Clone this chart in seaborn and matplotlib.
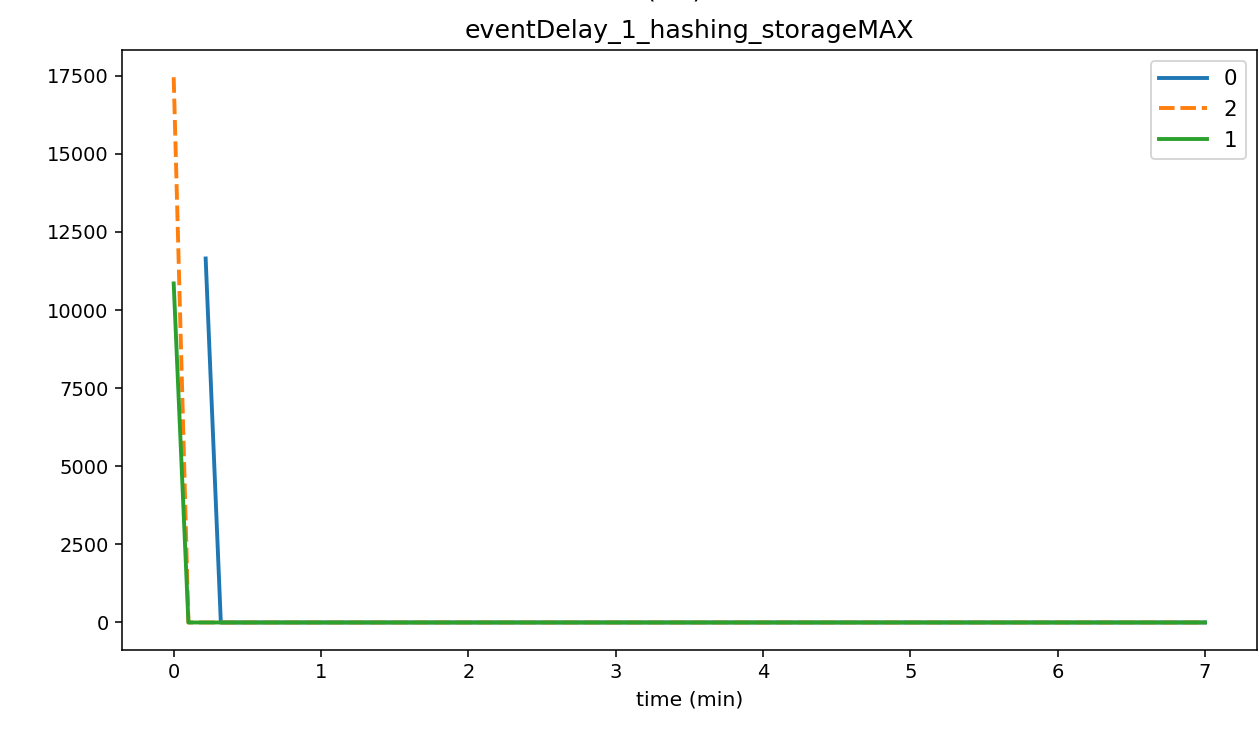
import numpy as np
import pandas as pd
import matplotlib
matplotlib.use('Agg')
import matplotlib.pyplot as plt
import seaborn as sns

# data (time in minutes, delay value)
time_0 = [0.217, 0.32, 7.0]
vals_0 = [11650, 0, 0]
time_2 = [0.0, 0.1, 7.0]
vals_2 = [17450, 0, 0]
time_1 = [0.0, 0.1, 7.0]
vals_1 = [10850, 0, 0]
series_order = ['0', '2', '1']

df = pd.concat([
    pd.DataFrame({'time': time_0, 'value': vals_0, 'node': '0'}),
    pd.DataFrame({'time': time_2, 'value': vals_2, 'node': '2'}),
    pd.DataFrame({'time': time_1, 'value': vals_1, 'node': '1'}),
], ignore_index=True)

fig = plt.figure(figsize=(8.993, 5.25), dpi=140)
ax = fig.add_axes([0.097, 0.116, 0.901, 0.816])

sns.lineplot(data=df, x='time', y='value', hue='node', style='node',
             hue_order=series_order, style_order=series_order,
             palette=['#1f77b4', '#ff7f0e', '#2ca02c'],
             dashes={'0': '', '2': (4, 1.5), '1': ''},
             linewidth=2, sort=False, estimator=None, ax=ax)

handles, labels = ax.get_legend_handles_labels()
ax.legend(handles, labels, loc='upper right', fontsize=11, handlelength=2.2)

ax.set_title('eventDelay_1_hashing_storageMAX', fontsize=13)
ax.set_xlabel('time (min)', fontsize=10.5)
ax.set_ylabel('')
ax.set_xlim(-0.35, 7.35)
ax.set_yticks([0, 2500, 5000, 7500, 10000, 12500, 15000, 17500])

# partially cut-off heading at the very top
fig.text(0.536, 1.004, '(ms)', ha='center', va='baseline', fontsize=13)

fig.savefig('out.png', dpi=140)
